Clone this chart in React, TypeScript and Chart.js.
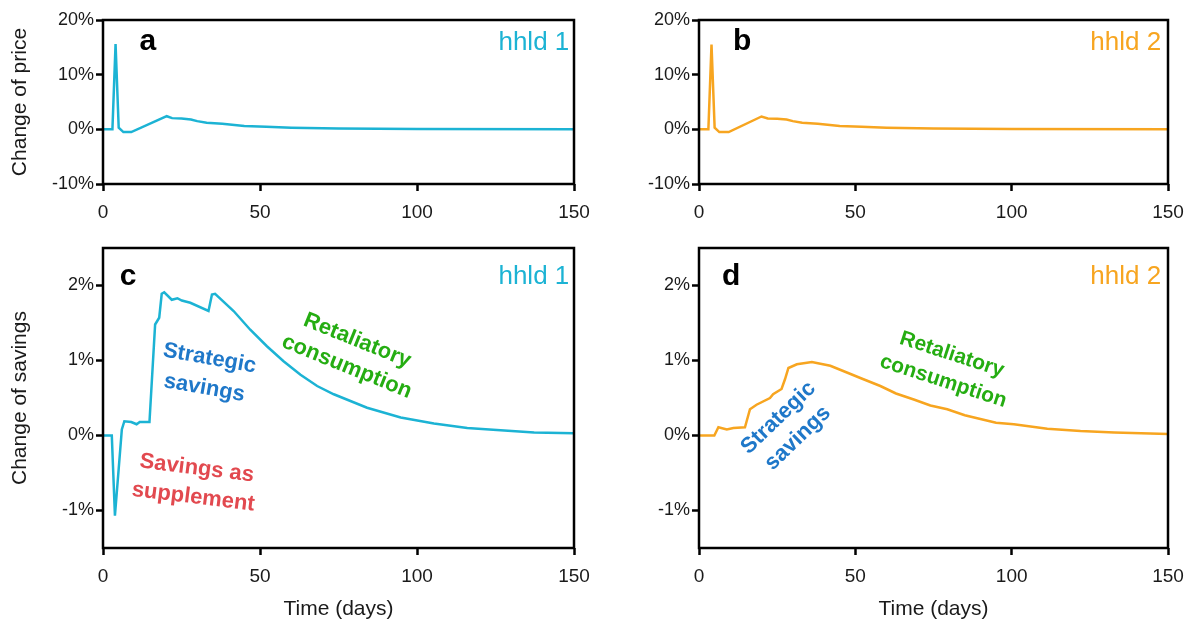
import React, { useEffect, useRef } from "react";
import { Chart, registerables } from "chart.js";

Chart.register(...registerables);

const FONT = "'Liberation Sans', Arial, Helvetica, sans-serif";
const CYAN = "#1cb3d4";
const ORANGE = "#f7a520";
const BLUE = "#1f78c9";
const GREEN = "#25ad12";
const RED = "#e2494f";

// ---- tick labels ----
const dayTicks = [0, 50, 100, 150];
const priceTicks = [-10, 0, 10, 20];
const savingsTicks = [-1, 0, 1, 2];

// ---- (a) change of price, hhld 1 ----
const priceDays1 = [0, 3, 4, 5, 6.5, 9, 20.3, 22, 25, 28, 30, 33, 38, 45, 52, 60, 75, 100, 150];
const priceVals1 = [0, 0, 15.6, 0.3, -0.5, -0.5, 2.4, 2.05, 2.0, 1.8, 1.5, 1.2, 1.0, 0.6, 0.45, 0.3, 0.15, 0.05, 0];

// ---- (b) change of price, hhld 2 ----
const priceDays2 = [0, 3, 4, 5, 6.5, 9.5, 20, 22, 25, 28, 30, 33, 38, 45, 52, 60, 75, 100, 150];
const priceVals2 = [0, 0, 15.5, 0.3, -0.5, -0.5, 2.35, 2.0, 1.95, 1.8, 1.5, 1.2, 1.0, 0.6, 0.45, 0.3, 0.15, 0.05, 0];

// ---- (c) change of savings, hhld 1 ----
const savingsDays1 = [0, 2.8, 3.8, 6, 6.8, 9, 10.7, 11.7, 14.8, 16.6, 17.9, 18.7, 19.5, 21.9, 23.7, 25.1, 27.8, 33.6, 34.7, 35.7, 41.6, 46.9, 52.2, 57.5, 62.9, 68.2, 73.5, 84.1, 94.8, 105.4, 116, 126.6, 137.3, 150];
const savingsVals1 = [0, 0, -1.07, 0.08, 0.19, 0.18, 0.15, 0.18, 0.18, 1.48, 1.57, 1.89, 1.91, 1.81, 1.83, 1.8, 1.77, 1.66, 1.88, 1.89, 1.66, 1.41, 1.19, 0.99, 0.81, 0.66, 0.55, 0.37, 0.24, 0.16, 0.1, 0.07, 0.04, 0.03];

// ---- (d) change of savings, hhld 2 ----
const savingsDays2 = [0, 4.9, 6.2, 8.9, 11, 14.7, 16.3, 18.4, 22.7, 23.7, 26.4, 27.5, 28.6, 31.3, 36.1, 42, 47.3, 52, 58, 63, 68.7, 74, 79.4, 85, 90, 95, 100.7, 111.4, 122, 132.8, 150];
const savingsVals2 = [0, 0, 0.11, 0.08, 0.1, 0.11, 0.35, 0.41, 0.5, 0.55, 0.62, 0.75, 0.9, 0.95, 0.98, 0.93, 0.84, 0.76, 0.66, 0.56, 0.48, 0.4, 0.35, 0.27, 0.22, 0.17, 0.15, 0.09, 0.06, 0.04, 0.02];

type Note = {
  lines: string[];
  x: number;
  y: number;
  rot?: number;
  color: string;
  size: number;
  bold?: boolean;
  align?: CanvasTextAlign;
  lh?: number;
};

function makeNotesPlugin(items: Note[]) {
  return {
    id: "notes",
    afterDraw(chart: any) {
      const ctx = chart.ctx as CanvasRenderingContext2D;
      const { left, top, right, bottom } = chart.chartArea;
      ctx.save();
      ctx.strokeStyle = "#000";
      ctx.lineWidth = 2.5;
      ctx.strokeRect(left, top, right - left, bottom - top);
      ctx.restore();
      for (const n of items) {
        const px = chart.scales.x.getPixelForValue(n.x);
        const py = chart.scales.y.getPixelForValue(n.y);
        ctx.save();
        ctx.translate(px, py);
        ctx.rotate(((n.rot || 0) * Math.PI) / 180);
        ctx.font = `${n.bold ? "bold " : ""}${n.size}px ${FONT}`;
        ctx.fillStyle = n.color;
        ctx.textAlign = n.align || "center";
        ctx.textBaseline = "middle";
        const lh = n.lh || n.size * 1.3;
        n.lines.forEach((l, i) => ctx.fillText(l, 0, (i - (n.lines.length - 1) / 2) * lh));
        ctx.restore();
      }
    },
  };
}

type Cfg = {
  days: number[];
  vals: number[];
  color: string;
  yMin: number;
  yMax: number;
  yTicks: number[];
  yTitle?: string;
  xTitle?: string;
  yWidth: number;
  xHeight: number;
  padTop: number;
  padRight: number;
  notes: Note[];
};

function buildConfig(c: Cfg): any {
  const tickGrid = {
    display: true,
    drawOnChartArea: false,
    drawTicks: true,
    tickLength: 7,
    tickWidth: 2.5,
    tickColor: "#000",
  };
  return {
    type: "line",
    data: {
      datasets: [
        {
          data: c.days.map((d, i) => ({ x: d, y: c.vals[i] })),
          borderColor: c.color,
          borderWidth: 2.5,
          pointRadius: 0,
          tension: 0,
          fill: false,
        },
      ],
    },
    options: {
      animation: false,
      responsive: false,
      devicePixelRatio: 1,
      layout: { padding: { top: c.padTop, right: c.padRight, left: 0, bottom: 0 } },
      plugins: { legend: { display: false }, tooltip: { enabled: false } },
      scales: {
        x: {
          type: "linear",
          min: 0,
          max: 150,
          afterBuildTicks: (s: any) => {
            s.ticks = dayTicks.map((v) => ({ value: v }));
          },
          afterFit: (s: any) => {
            s.height = c.xHeight;
          },
          border: { display: false },
          grid: tickGrid,
          ticks: {
            autoSkip: false,
            maxRotation: 0,
            padding: 10,
            color: "#1a1a1a",
            font: { family: FONT, size: 19 },
            callback: (v: any) => String(v),
          },
          title: c.xTitle
            ? {
                display: true,
                text: c.xTitle,
                color: "#1a1a1a",
                font: { family: FONT, size: 21 },
                padding: { top: 0, bottom: 1 },
              }
            : { display: false },
        },
        y: {
          type: "linear",
          min: c.yMin,
          max: c.yMax,
          afterBuildTicks: (s: any) => {
            s.ticks = c.yTicks.map((v) => ({ value: v }));
          },
          afterFit: (s: any) => {
            s.width = c.yWidth;
          },
          border: { display: false },
          grid: tickGrid,
          ticks: {
            padding: 2,
            color: "#1a1a1a",
            font: { family: FONT, size: 18 },
            callback: (v: any) => `${v}%`,
          },
          title: c.yTitle
            ? {
                display: true,
                text: c.yTitle,
                color: "#1a1a1a",
                font: { family: FONT, size: 21 },
                padding: { top: 8, bottom: 0 },
              }
            : { display: false },
        },
      },
    },
    plugins: [makeNotesPlugin(c.notes)],
  };
}

function Panel(props: { left: number; top: number; width: number; height: number; cfg: Cfg }) {
  const ref = useRef<HTMLCanvasElement>(null);
  useEffect(() => {
    const chart = new Chart(ref.current as HTMLCanvasElement, buildConfig(props.cfg));
    return () => chart.destroy();
  }, []);
  const { left, top, width, height } = props;
  return (
    <div style={{ position: "absolute", left, top, width, height }}>
      <canvas ref={ref} width={width} height={height} style={{ width, height, display: "block" }} />
    </div>
  );
}

const cfgA: Cfg = {
  days: priceDays1,
  vals: priceVals1,
  color: CYAN,
  yMin: -10,
  yMax: 20,
  yTicks: priceTicks,
  yTitle: "Change of price",
  yWidth: 103,
  xHeight: 46,
  padTop: 20,
  padRight: 26,
  notes: [
    { lines: ["a"], x: 14.3, y: 16, color: "#000", size: 30, bold: true },
    { lines: ["hhld 1"], x: 148.5, y: 15.8, color: CYAN, size: 26, align: "right" },
  ],
};

const cfgB: Cfg = {
  days: priceDays2,
  vals: priceVals2,
  color: ORANGE,
  yMin: -10,
  yMax: 20,
  yTicks: priceTicks,
  yWidth: 102,
  xHeight: 46,
  padTop: 20,
  padRight: 26,
  notes: [
    { lines: ["b"], x: 13.8, y: 16, color: "#000", size: 30, bold: true },
    { lines: ["hhld 2"], x: 147.8, y: 15.8, color: ORANGE, size: 26, align: "right" },
  ],
};

const cfgC: Cfg = {
  days: savingsDays1,
  vals: savingsVals1,
  color: CYAN,
  yMin: -1.5,
  yMax: 2.5,
  yTicks: savingsTicks,
  yTitle: "Change of savings",
  xTitle: "Time (days)",
  yWidth: 103,
  xHeight: 75,
  padTop: 18,
  padRight: 26,
  notes: [
    { lines: ["c"], x: 8, y: 2.12, color: "#000", size: 30, bold: true },
    { lines: ["hhld 1"], x: 148.5, y: 2.12, color: CYAN, size: 26, align: "right" },
    { lines: ["Strategic", "savings"], x: 33.1, y: 0.83, rot: 10, color: BLUE, size: 22, bold: true, lh: 30 },
    { lines: ["Savings as", "supplement"], x: 29.3, y: -0.63, rot: 7, color: RED, size: 22, bold: true, lh: 29 },
    { lines: ["Retaliatory", "consumption"], x: 79.3, y: 1.09, rot: 22, color: GREEN, size: 22, bold: true, lh: 28 },
  ],
};

const cfgD: Cfg = {
  days: savingsDays2,
  vals: savingsVals2,
  color: ORANGE,
  yMin: -1.5,
  yMax: 2.5,
  yTicks: savingsTicks,
  xTitle: "Time (days)",
  yWidth: 102,
  xHeight: 75,
  padTop: 18,
  padRight: 26,
  notes: [
    { lines: ["d"], x: 10.3, y: 2.12, color: "#000", size: 30, bold: true },
    { lines: ["hhld 2"], x: 147.8, y: 2.12, color: ORANGE, size: 26, align: "right" },
    { lines: ["Strategic", "savings"], x: 28.5, y: 0.1, rot: -44, color: BLUE, size: 22, bold: true, lh: 28 },
    { lines: ["Retaliatory", "consumption"], x: 79.5, y: 0.9, rot: 18, color: GREEN, size: 21, bold: true, lh: 28 },
  ],
};

export default function App() {
  return (
    <div style={{ position: "fixed", left: 0, top: 0, width: 1194, height: 623, background: "#fff" }}>
      <Panel left={0} top={0} width={600} height={230} cfg={cfgA} />
      <Panel left={597} top={0} width={597} height={230} cfg={cfgB} />
      <Panel left={0} top={230} width={600} height={393} cfg={cfgC} />
      <Panel left={597} top={230} width={597} height={393} cfg={cfgD} />
    </div>
  );
}
